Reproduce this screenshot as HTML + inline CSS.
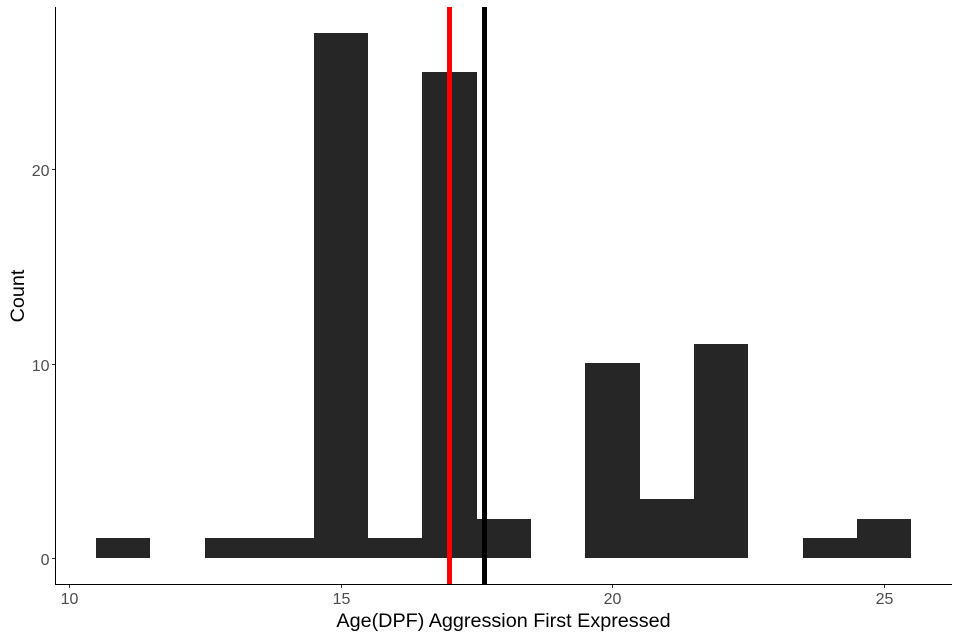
<!DOCTYPE html>
<html>
<head>
<meta charset="utf-8">
<style>
html,body{margin:0;padding:0;background:#fff;width:960px;height:638px;overflow:hidden}
svg{display:block}
text{font-family:"Liberation Sans",Arial,sans-serif}
</style>
</head>
<body>
<svg id="chart" width="960" height="638" viewBox="0 0 960 638" xmlns="http://www.w3.org/2000/svg"></svg>
<script>
const binCenters = [11, 12, 13, 14, 15, 16, 17, 18, 19, 20, 21, 22, 23, 24, 25];
const counts = [1, 0, 1, 1, 27, 1, 25, 2, 0, 10, 3, 11, 0, 1, 2];
const xTicks = [10, 15, 20, 25];
const yTicks = [0, 10, 20];
const medianAge = 17;
const meanAge = 17.64;
const binWidth = 1;

const svg = document.getElementById('chart');
const NS = 'http://www.w3.org/2000/svg';
const xScale = v => 96.1 + (v - 10.5) * 54.35;
const yScale = v => 558 - v * 19.43;
const panel = {left: 56, right: 952, top: 7, bottom: 584};

function make(tag, attrs, parent) {
  const el = document.createElementNS(NS, tag);
  for (const k in attrs) el.setAttribute(k, attrs[k]);
  (parent || svg).appendChild(el);
  return el;
}

const barsGroup = make('path', {fill: '#262626', 'shape-rendering': 'crispEdges'});


let barPath = '';
binCenters.forEach((c, i) => {
  if (counts[i] <= 0) return;
  const x0 = Math.round(xScale(c - binWidth / 2));
  const x1 = Math.round(xScale(c + binWidth / 2));
  const y1 = Math.floor(yScale(counts[i]));
  const y0 = Math.round(yScale(0));
  barPath += 'M' + x0 + ' ' + y1 + 'H' + x1 + 'V' + y0 + 'H' + x0 + 'Z';
});
barsGroup.setAttribute('d', barPath);

const medianLine = make('rect', {x: Math.round(xScale(medianAge) - 2.5), y: panel.top, width: 5, height: panel.bottom - panel.top, fill: '#ff0000', 'shape-rendering': 'crispEdges'});



const meanLine = make('rect', {x: Math.round(xScale(meanAge) - 2.5), y: panel.top, width: 5, height: panel.bottom - panel.top, fill: '#000000', 'shape-rendering': 'crispEdges'});



const yAxisLine = make('line', {x1: 55.5, x2: 55.5, y1: panel.top, y2: 585, stroke: '#000', 'stroke-width': 1, 'shape-rendering': 'crispEdges'});



const xAxisLine = make('line', {x1: 55, x2: panel.right, y1: 584.5, y2: 584.5, stroke: '#000', 'stroke-width': 1, 'shape-rendering': 'crispEdges'});



xTicks.forEach(t => {
  const x = Math.round(xScale(t)) + 0.5;
  const tick = make('line', {x1: x, x2: x, y1: 585, y2: 588, stroke: '#333', 'stroke-width': 1, 'shape-rendering': 'crispEdges'});
  
  
  const label = make('text', {x: x, y: 604, 'text-anchor': 'middle', 'font-size': 16, fill: '#4d4d4d'});
  label.textContent = t;
  
  
});

yTicks.forEach(t => {
  const y = Math.round(yScale(t)) + 0.5;
  const tick = make('line', {x1: 52, x2: 55, y1: y, y2: y, stroke: '#333', 'stroke-width': 1, 'shape-rendering': 'crispEdges'});
  
  
  const label = make('text', {x: 49.5, y: y + 6.5, 'text-anchor': 'end', 'font-size': 16, fill: '#4d4d4d'});
  label.textContent = t;
  
  
});

const xTitle = make('text', {x: 503.5, y: 627, 'text-anchor': 'middle', 'font-size': 19.8, fill: '#000'});
xTitle.textContent = 'Age(DPF) Aggression First Expressed';



const yTitle = make('text', {x: 0, y: 0, transform: 'translate(24,296) rotate(-90)', 'text-anchor': 'middle', 'font-size': 19.8, fill: '#000'});
yTitle.textContent = 'Count';


</script>
</body>
</html>
